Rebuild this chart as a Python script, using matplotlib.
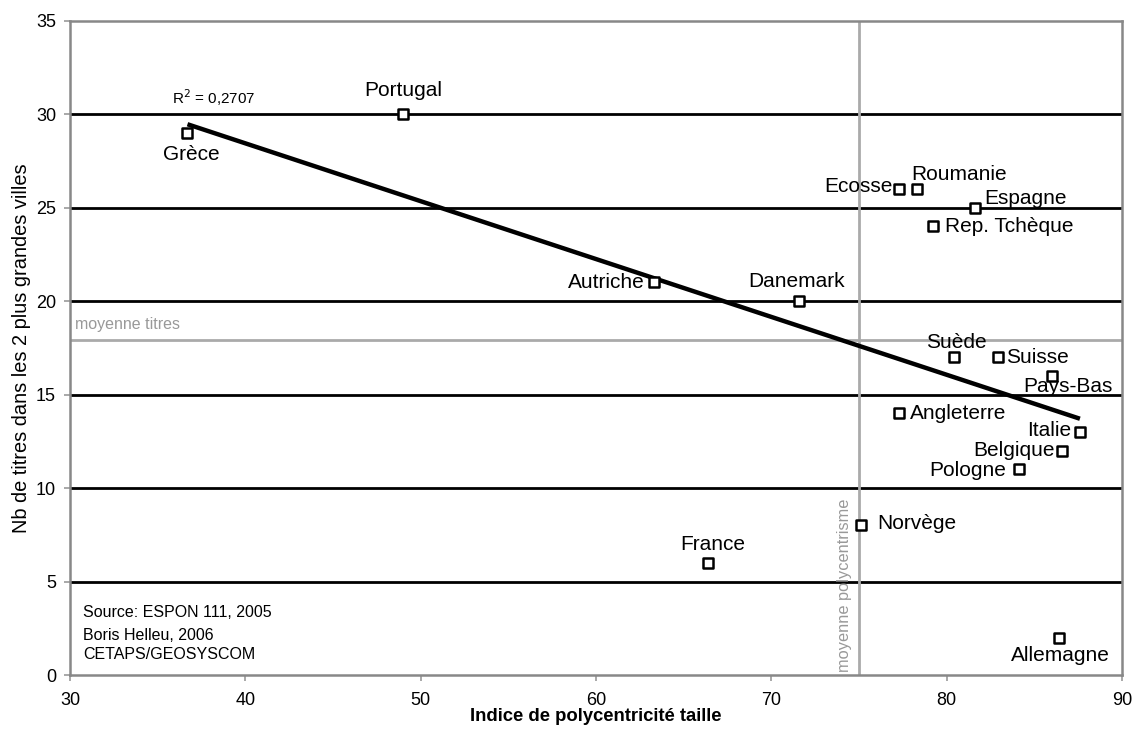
import matplotlib
matplotlib.use("Agg")
import matplotlib.pyplot as plt
import numpy as np

plt.rcParams['font.family'] = ['Liberation Sans', 'DejaVu Sans']

countries = ["Grèce", "Portugal", "Ecosse", "Roumanie", "Espagne", "Rep. Tchèque",
             "Autriche", "Danemark", "Suède", "Suisse", "Pays-Bas", "Angleterre",
             "Italie", "Belgique", "Pologne", "Norvège", "France", "Allemagne"]
polycentricite = [36.7, 49.0, 77.3, 78.3, 81.6, 79.2,
                  63.3, 71.6, 80.4, 82.9, 86.0, 77.3,
                  87.6, 86.6, 84.1, 75.1, 66.4, 86.4]
titres = [29, 30, 26, 26, 25, 24,
          21, 20, 17, 17, 16, 14,
          13, 12, 11, 8, 6, 2]
moyenne_polycentrisme = 75.0
moyenne_titres = 17.9
r2_label = "R$^2$ = 0,2707"
x_ticks = [30, 40, 50, 60, 70, 80, 90]
y_ticks = [0, 5, 10, 15, 20, 25, 30, 35]

# label placement: (dx px, dy px, ha)
label_pos = {
    "Grèce": (4, -22, "center"), "Portugal": (0, 24, "center"),
    "Ecosse": (-7, 2, "right"), "Roumanie": (-6, 14, "left"),
    "Espagne": (10, 9, "left"), "Rep. Tchèque": (12, 0, "left"),
    "Autriche": (-9, 0, "right"), "Danemark": (-3, 20, "center"),
    "Suède": (3, 15, "center"), "Suisse": (9, 0, "left"),
    "Pays-Bas": (16, -11, "center"), "Angleterre": (11, 0, "left"),
    "Italie": (-9, 1, "right"), "Belgique": (-8, 0, "right"),
    "Pologne": (-12, -1, "right"), "Norvège": (16, 2, "left"),
    "France": (5, 18, "center"), "Allemagne": (2, -18, "center"),
}

fig = plt.figure(figsize=(11.32, 7.36), dpi=100)
ax = fig.add_axes([70/1132, 61/736, 1052/1132, 654.3/736])
ax.set_xlim(30, 90)
ax.set_ylim(0, 35)

for yv in y_ticks[1:-1]:
    ax.axhline(yv, color='black', lw=2, zorder=1)

ax.axvline(moyenne_polycentrisme, color='#aaaaaa', lw=2, zorder=2)
ax.axhline(moyenne_titres, color='#aaaaaa', lw=2, zorder=2)

x = np.array(polycentricite)
y = np.array(titres)
slope, intercept = np.polyfit(x, y, 1)
xs = np.array([x.min(), x.max()])
ax.plot(xs, slope * xs + intercept, color='black', lw=3.2, zorder=3, solid_capstyle='butt')

ax.scatter(x, y, marker='s', s=42, facecolor='white', edgecolor='black', linewidth=1.8, zorder=4)

px = 72 / 100
for c, xv, yv in zip(countries, x, y):
    dx, dy, ha = label_pos[c]
    ax.annotate(c, (xv, yv), xytext=(dx * px, dy * px), textcoords='offset points',
                ha=ha, va='center', fontsize=15, color='black', zorder=5)

ax.text(38.2, 30.9, r2_label, ha='center', va='center', fontsize=11)
ax.text(30.3, 17.95 + 0.4, "moyenne titres", color='#999999', fontsize=11.5, ha='left', va='bottom')
ax.text(74.15, 0.15, "moyenne polycentrisme", color='#999999', fontsize=11.8,
        rotation=90, ha='center', va='bottom')

ax.text(0.0125, 0.095, "Source: ESPON 111, 2005", transform=ax.transAxes, fontsize=11.5, va='center')
ax.text(0.0125, 0.06, "Boris Helleu, 2006", transform=ax.transAxes, fontsize=11.5, va='center')
ax.text(0.0125, 0.031, "CETAPS/GEOSYSCOM", transform=ax.transAxes, fontsize=11.5, va='center')

ax.set_xticks(x_ticks)
ax.set_yticks(y_ticks)
ax.tick_params(axis='both', colors='#999999', labelcolor='black', labelsize=13, length=4, width=1.2)
ax.tick_params(axis='x', pad=8)
ax.tick_params(axis='y', pad=6)
for s in ax.spines.values():
    s.set_color('#888888')
    s.set_linewidth(1.8)

ax.set_xlabel("Indice de polycentricité taille", fontsize=13.3, fontweight='bold')
ax.xaxis.set_label_coords(0.5, -0.05)
ax.set_ylabel("Nb de titres dans les 2 plus grandes villes", fontsize=14.4)
ax.yaxis.set_label_coords(-0.037, 0.5)

fig.savefig("out.png", dpi=100)
